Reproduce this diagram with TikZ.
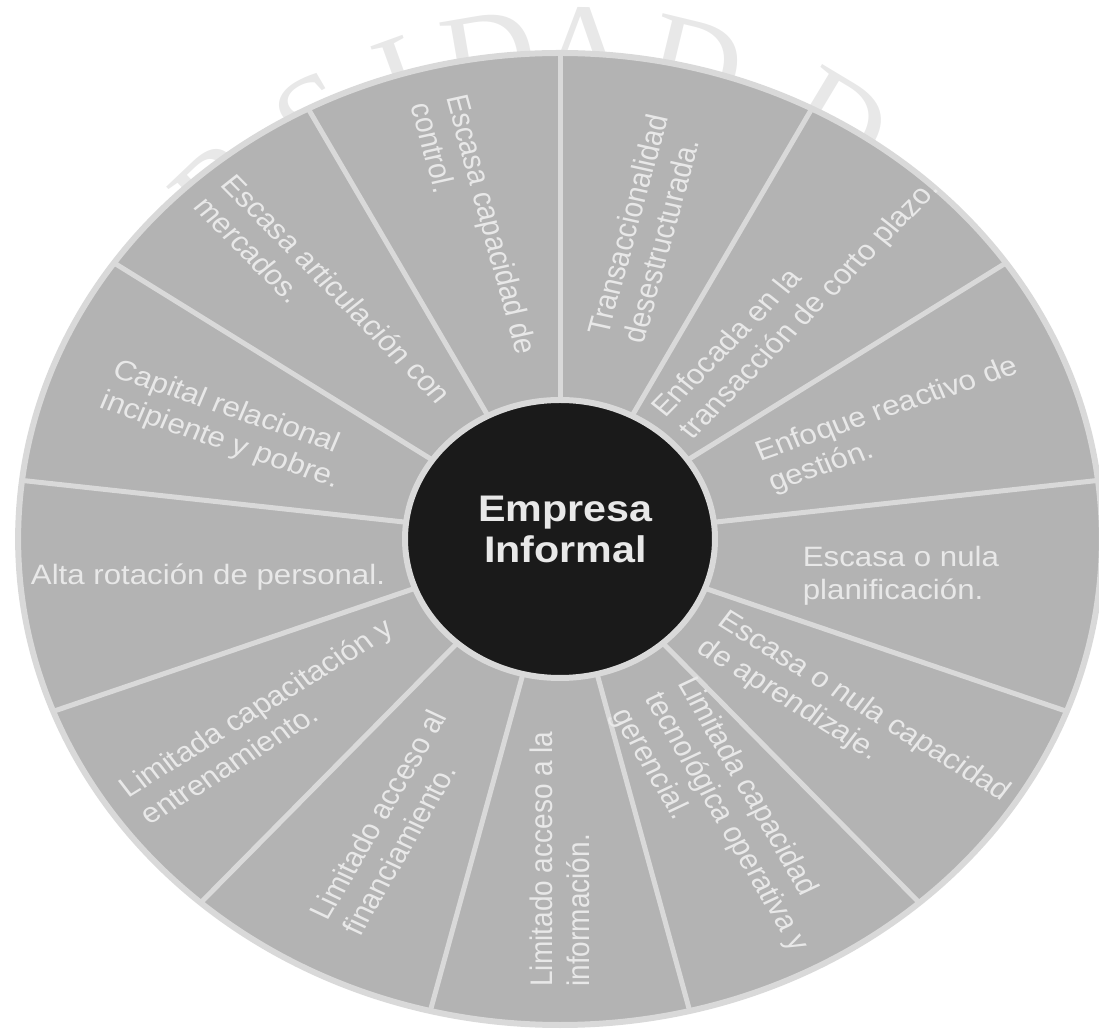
\documentclass[tikz,border=0pt]{standalone}
\usepackage{fontspec}
\setmainfont{Liberation Sans}
\newfontfamily\marcafont{Liberation Serif}
\definecolor{sectorgris}{HTML}{B3B3B3}
\definecolor{lineagris}{HTML}{D9D9D9}
\definecolor{textogris}{HTML}{E8E8E8}
\definecolor{centronegro}{HTML}{1A1A1A}
\definecolor{marcagris}{HTML}{E8E8E8}

\begin{document}
\begin{tikzpicture}[x=1pt,y=1pt,
    etiqueta/.style={text=textogris,align=left,inner sep=0pt,transform shape,
      font=\fontsize{28}{33}\selectfont},
    nucleo/.style={text=textogris,align=center,inner sep=0pt,transform shape,
      font=\bfseries\fontsize{37}{41}\selectfont},
    marca/.style={text=marcagris,anchor=base,inner sep=0pt,
      font=\marcafont\fontsize{130}{130}\selectfont},
    radio/.style={draw=lineagris,line width=5pt},
    borde/.style={draw=lineagris,line width=6pt}]
\useasboundingbox (0,0) rectangle (1099,1030);

\foreach \letra/\ang [count=\m] in {R/133.5,S/120.4,I/109.9,D/99.7,A/89,D/76.4,D/59}
  \node[marca,rotate=\ang-90] (m\m) at ([shift={(\ang:467)}]575,470) {\letra};

\begin{scope}[shift={(560,491)},xscale=1.115]
  \fill[sectorgris] (0,0) circle (486);
  \foreach \k in {0,...,12}
    \draw[radio] (90+\k*360/13:139) -- (90+\k*360/13:486);
  \draw[borde] (0,0) circle (486);
  \draw[borde,fill=centronegro] (0,0) circle (139);
  \node[nucleo] (centro) at (5,10) {Empresa\\Informal};

  \node[etiqueta,rotate=-76.15] (s0) at (103.85:320) {Escasa capacidad de\\control.};
  \node[etiqueta,rotate=-48.46] (s1) at (131.54:320) {Escasa articulación con\\mercados.};
  \node[etiqueta,rotate=-20.77] (s2) at (159.23:320) {Capital relacional\\incipiente y pobre.};
  \node[etiqueta] (s3) at (186.92:318) {Alta rotación de personal.};
  \node[etiqueta,rotate=34.62] (s4) at (214.62:320) {Limitada capacitación y\\entrenamiento.};
  \node[etiqueta,rotate=62.31] (s5) at (242.31:320) {Limitado acceso al\\financiamiento.};
  \node[etiqueta,rotate=90] (s6) at (270:320) {Limitado acceso a la\\información.};
  \node[etiqueta,rotate=-62.31] (s7) at (297.69:320) {Limitada capacidad\\tecnológica operativa y\\gerencial.};
  \node[etiqueta,rotate=-34.62] (s8) at (325.38:320) {Escasa o nula capacidad\\de aprendizaje.};
  \node[etiqueta] (s9) at (353.08:308) {Escasa o nula\\planificación.};
  \node[etiqueta,rotate=20.77] (s10) at (20.77:320) {Enfoque reactivo de\\gestión.};
  \node[etiqueta,rotate=48.46] (s11) at (48.46:320) {Enfocada en la\\transacción de corto plazo.};
  \node[etiqueta,rotate=76.15] (s12) at (76.15:320) {Transaccionalidad\\desestructurada.};
\end{scope}
\end{tikzpicture}
\end{document}
